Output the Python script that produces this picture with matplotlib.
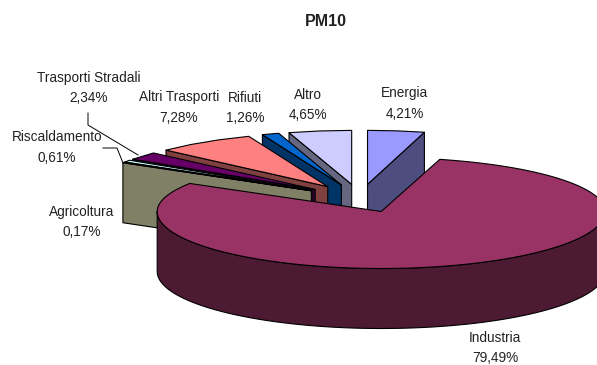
import numpy as np
import matplotlib
matplotlib.use("Agg")
import matplotlib.pyplot as plt
from matplotlib.patches import Polygon

# quota per settore, in senso orario a partire dalle ore 12
categories = ["Energia", "Industria", "Agricoltura", "Riscaldamento",
              "Trasporti Stradali", "Altri Trasporti", "Rifiuti", "Altro"]
values = [4.21, 79.49, 0.17, 0.61, 2.34, 7.28, 1.26, 4.65]
value_labels = ["4,21%", "79,49%", "0,17%", "0,61%", "2,34%", "7,28%", "1,26%", "4,65%"]
top_colors = ["#9999FF", "#993366", "#FFFFCC", "#CCFFFF",
              "#660066", "#FF8080", "#0066CC", "#CCCCFF"]
side_colors = ["#4D4D80", "#4D1A33", "#808066", "#668080",
               "#330033", "#804040", "#003366", "#666680"]
label_pos = [(405, 103.5), (495, 348), (82, 222), (57, 147.5),
             (89, 88), (179, 107.5), (245, 108), (308, 105)]

# geometria della torta in pixel
CX, CY = 360, 198
RX, RY_BACK, RY_FRONT = 224, 54, 57
EXPLODE = 0.255
DEPTH = 60
ARC_STEP = 9.0   # gradi, archi a segmenti


def project(theta_deg, apex, shrink=0.03):
    t = np.radians(theta_deg)
    c = np.cos(t)
    ry = np.where(c > 0, RY_BACK, RY_FRONT)
    # leggera prospettiva: il bordo posteriore si stringe
    rx = RX * (1 - shrink * np.clip(c, 0, 1))
    return np.column_stack([apex[0] + rx * np.sin(t), apex[1] - ry * c])


def arc(start, end):
    n = max(2, int(np.ceil((end - start) / ARC_STEP)) + 1)
    return np.linspace(start, end, n)


def prism_side(points):
    """Extrude a polyline downwards by DEPTH into a closed polygon."""
    lower = points[::-1] + np.array([0, DEPTH])
    return np.vstack([points, lower])


def draw_slice(ax, start, end, top, side, z):
    mid = np.radians((start + end) / 2)
    ry_shift = RY_BACK if np.cos(mid) > 0 else RY_FRONT
    apex = (CX + EXPLODE * RX * np.sin(mid), CY - EXPLODE * ry_shift * np.cos(mid))
    apex_pt = np.array([apex])
    style = dict(edgecolor="black", linewidth=0.8, joinstyle="round", zorder=z)

    # pareti radiali, solo quelle rivolte verso chi guarda
    if np.sin(np.radians(start)) < -1e-6:
        edge = np.vstack([project(np.array([start]), apex), apex_pt])
        ax.add_patch(Polygon(prism_side(edge), facecolor=side, **style))
    if np.sin(np.radians(end)) > 1e-6:
        edge = np.vstack([apex_pt, project(np.array([end]), apex)])
        ax.add_patch(Polygon(prism_side(edge), facecolor=side, **style))

    # parete esterna: la parte frontale dell'arco
    if end - start > 180:
        rim = project(np.linspace(90, 270, 90), apex, shrink=0)
        ax.add_patch(Polygon(prism_side(rim), facecolor=side, **style))
        outline = project(np.linspace(start, end, 240), apex, shrink=0)
    else:
        outline = project(arc(start, end), apex)

    ax.add_patch(Polygon(np.vstack([apex_pt, outline]), facecolor=top, **style))


fig = plt.figure(figsize=(5.97, 3.65), dpi=100)
ax = fig.add_axes([0, 0, 1, 1])
ax.set_xlim(0, 597)
ax.set_ylim(365, 0)
ax.axis("off")

plt.rcParams["font.family"] = ["Liberation Sans", "DejaVu Sans"]

bounds = np.concatenate([[0], np.cumsum(values)]) / sum(values) * 360

# ordine di disegno: dal fondo verso il davanti, Industria per ultima
order = [0, 7, 6, 5, 4, 3, 2, 1]
for z, i in enumerate(order, start=2):
    draw_slice(ax, bounds[i], bounds[i + 1], top_colors[i], side_colors[i], z)

# linee guida delle etichette piccole
ax.plot([88, 88, 138], [113, 125, 155], color="black", lw=0.7, zorder=20)
ax.plot([103, 117, 123], [148, 148, 163], color="black", lw=0.7, zorder=20)

for name, val, (x, y) in zip(categories, value_labels, label_pos):
    ax.text(x, y, name + "\n" + val, ha="center", va="center", fontsize=9.8,
            linespacing=1.62, color="#222222", zorder=30)

ax.text(326, 22, "PM10", ha="center", va="center", fontsize=11.5,
        fontweight="bold", color="#222222")

fig.savefig("out.png", dpi=100)
